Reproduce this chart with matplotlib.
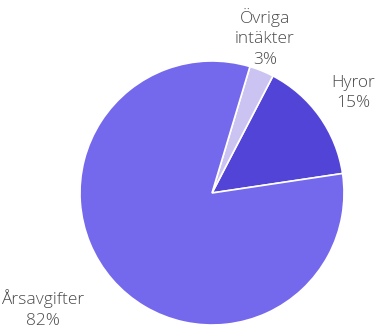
import matplotlib
matplotlib.use("Agg")
import matplotlib.pyplot as plt

labels = ["Hyror", "Övriga\nintäkter", "Årsavgifter"]
values = [15, 3, 82]
colors = ["#5244d6", "#cbc4f2", "#7468ec"]

fig = plt.figure(figsize=(3.82, 3.29), dpi=100)
ax = fig.add_axes([0, 0, 1, 1])

ax.pie(values, colors=colors, startangle=8.5, counterclock=True,
       center=(212, 136), radius=132, frame=True,
       wedgeprops=dict(edgecolor="white", linewidth=1.2))
ax.set_xlim(0, 382)
ax.set_ylim(0, 329)
ax.set_aspect("equal")
ax.axis("off")

font = dict(family=["Open Sans", "DejaVu Sans"], fontsize=12.5, color="#4a4a4a",
            ha="center", va="center", linespacing=1.4, fontweight="light")
pos = [(353, 236), (265, 291), (43, 20)]
for lab, v, (x, y) in zip(labels, values, pos):
    ax.text(x, y, f"{lab}\n{v}%", **font)

fig.savefig("out.png", dpi=100)
